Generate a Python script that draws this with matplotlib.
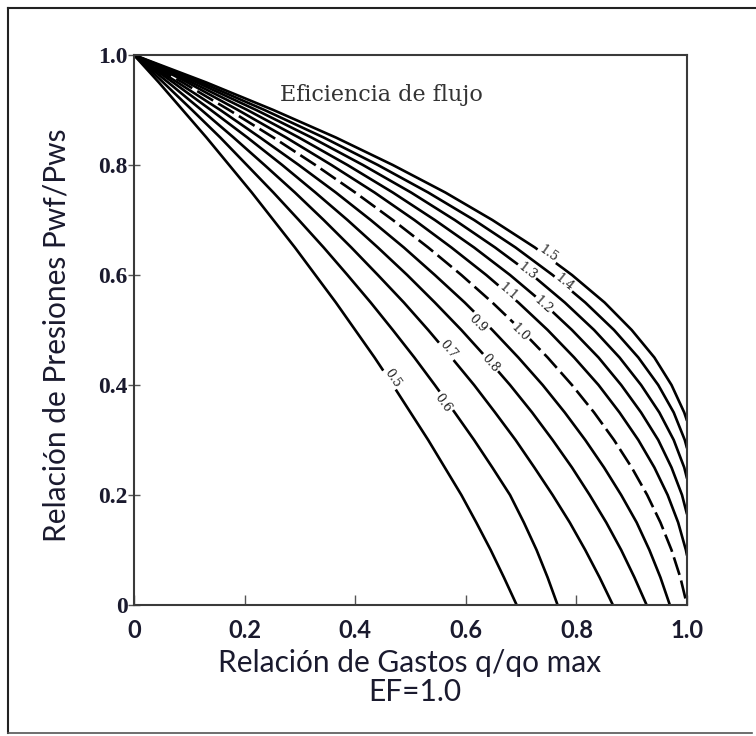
import matplotlib
matplotlib.use('Agg')
import matplotlib.pyplot as plt
from matplotlib.lines import Line2D

# ── Data ─────────────────────────────────────────────────────────────────────
EF_VALUES = [0.5, 0.6, 0.7, 0.8, 0.9, 1.0, 1.1, 1.2, 1.3, 1.4, 1.5]
PWF_LEVELS = [1.0, 0.95, 0.9, 0.85, 0.8, 0.75, 0.7, 0.65, 0.6, 0.55, 0.5,
              0.45, 0.4, 0.35, 0.3, 0.25, 0.2, 0.15, 0.1, 0.05, 0.0]

# q/qo max of each curve at the PWF_LEVELS (curves above EF=1 stop at the right edge)
Q_EF05 = [0.0, 0.045, 0.088, 0.131, 0.172, 0.213, 0.252, 0.291, 0.328, 0.365, 0.400,
          0.435, 0.468, 0.500, 0.532, 0.562, 0.592, 0.619, 0.645, 0.669, 0.692]
Q_EF06 = [0.0, 0.053, 0.105, 0.156, 0.204, 0.252, 0.298, 0.343, 0.386, 0.428, 0.468,
          0.507, 0.544, 0.580, 0.615, 0.648, 0.680, 0.705, 0.728, 0.748, 0.766]
Q_EF07 = [0.0, 0.062, 0.122, 0.180, 0.236, 0.291, 0.343, 0.393, 0.441, 0.488, 0.532,
          0.574, 0.615, 0.653, 0.690, 0.724, 0.757, 0.788, 0.816, 0.842, 0.866]
Q_EF08 = [0.0, 0.071, 0.139, 0.205, 0.268, 0.328, 0.386, 0.441, 0.494, 0.544, 0.592,
          0.637, 0.680, 0.720, 0.757, 0.792, 0.824, 0.854, 0.881, 0.905, 0.927]
Q_EF09 = [0.0, 0.079, 0.156, 0.228, 0.298, 0.365, 0.428, 0.488, 0.544, 0.598, 0.648,
          0.695, 0.739, 0.779, 0.816, 0.850, 0.881, 0.909, 0.932, 0.952, 0.969]
Q_EF10 = [0.0, 0.088, 0.172, 0.252, 0.328, 0.400, 0.468, 0.532, 0.592, 0.648, 0.700,
          0.748, 0.792, 0.832, 0.868, 0.900, 0.928, 0.952, 0.972, 0.988, 1.0]
Q_EF11 = [0.0, 0.097, 0.188, 0.275, 0.357, 0.435, 0.507, 0.574, 0.637, 0.695, 0.748,
          0.796, 0.840, 0.878, 0.912, 0.941, 0.965, 0.984, 0.998]
Q_EF12 = [0.0, 0.105, 0.205, 0.298, 0.386, 0.468, 0.544, 0.615, 0.680, 0.739, 0.792,
          0.840, 0.881, 0.917, 0.948, 0.972, 0.991]
Q_EF13 = [0.0, 0.114, 0.221, 0.321, 0.414, 0.501, 0.580, 0.653, 0.720, 0.779, 0.832,
          0.878, 0.917, 0.950, 0.976, 0.995]
Q_EF14 = [0.0, 0.122, 0.236, 0.343, 0.441, 0.532, 0.615, 0.690, 0.757, 0.816, 0.868,
          0.912, 0.948, 0.976, 0.996]
Q_EF15 = [0.0, 0.131, 0.252, 0.365, 0.468, 0.563, 0.648, 0.725, 0.792, 0.851, 0.900,
          0.941, 0.972, 0.995]
# Pwf/Pws where the EF>1 curves meet q/qo max = 1
END_PWF = {1.1: 0.09, 1.2: 0.165, 1.3: 0.23, 1.4: 0.285, 1.5: 0.335}

CURVES = [Q_EF05, Q_EF06, Q_EF07, Q_EF08, Q_EF09, Q_EF10,
          Q_EF11, Q_EF12, Q_EF13, Q_EF14, Q_EF15]
LABELS = ['0.5', '0.6', '0.7', '0.8', '0.9', '1.0', '1.1', '1.2', '1.3', '1.4', '1.5']

# label anchor (q, pwf) and angle along each curve
LABEL_POS = [(0.468, 0.413), (0.559, 0.367), (0.568, 0.464), (0.644, 0.440),
             (0.622, 0.511), (0.698, 0.495), (0.676, 0.569), (0.740, 0.545),
             (0.711, 0.607), (0.779, 0.587), (0.749, 0.638)]
LABEL_ROT = [-56, -54, -50, -49, -45, -45, -41, -42, -38, -39, -35]

TICKS = [0, 0.2, 0.4, 0.6, 0.8, 1.0]
TICK_LABELS = ['0', '0.2', '0.4', '0.6', '0.8', '1.0']

TXT = '#1a1a2e'

fig = plt.figure(figsize=(7.56, 7.36), dpi=100)
fig.patch.set_facecolor('white')
ax = fig.add_axes([134 / 756, 1 - 605 / 736, 553 / 756, 550 / 736])

for ef, q in zip(EF_VALUES, CURVES):
    p = PWF_LEVELS[:len(q)]
    if ef in END_PWF:
        q = q + [1.0]
        p = p + [END_PWF[ef]]
    ls = (0, (7, 2.2)) if ef == 1.0 else '-'
    ax.plot(q, p, color='black', lw=1.9, ls=ls, solid_capstyle='butt',
            solid_joinstyle='round', zorder=2)

for lbl, (x, y), rot in zip(LABELS, LABEL_POS, LABEL_ROT):
    ax.text(x, y, lbl, rotation=rot, rotation_mode='anchor', ha='center', va='center',
            fontsize=9, family='DejaVu Serif', color='#222222', zorder=4,
            bbox=dict(boxstyle='square,pad=0.12', fc='white', ec='none'))

ax.text(0.447, 0.927, 'Eficiencia de flujo', ha='center', va='center',
        fontsize=16, family='DejaVu Serif', color='#333333')

ax.set_xlim(0, 1)
ax.set_ylim(0, 1)
for s in ax.spines.values():
    s.set_color('#3a3a3a')
    s.set_linewidth(1.5)

ax.set_xticks(TICKS)
ax.set_xticklabels(TICK_LABELS, family='Lato', fontweight='bold', fontsize=17, color=TXT)
ax.set_yticks(TICKS)
ax.set_yticklabels(TICK_LABELS, family='Liberation Serif', fontweight='bold', fontsize=17,
                   color=TXT)
ax.tick_params(axis='x', direction='in', length=7, width=1, color='#555555', pad=10)
ax.tick_params(axis='y', direction='inout', length=9, width=1, color='#555555', pad=0)

fig.text(410 / 756, 1 - 663 / 736, 'Relación de Gastos q/qo max', ha='center', va='center',
         family='Lato', fontsize=21.5, color=TXT)
fig.text(415 / 756, 1 - 692 / 736, 'EF=1.0', ha='center', va='center',
         family='Lato', fontsize=21.5, color=TXT)
fig.text(57 / 756, 1 - 335 / 736, 'Relación de Presiones Pwf/Pws', ha='center', va='center',
         rotation=90, family='Lato', fontsize=21.5, color=TXT)

# outer frame of the picture
L, T, B, R = 8 / 756, 1 - 8 / 736, 1 - 733 / 736, 752 / 756
fig.add_artist(Line2D([L, L], [B, T], color='#222222', lw=1.5))
fig.add_artist(Line2D([L, 1.0], [T, T], color='#222222', lw=1.5))
fig.add_artist(Line2D([L, R], [B, B], color='#555555', lw=1.2))

fig.savefig('out.png', dpi=100)
